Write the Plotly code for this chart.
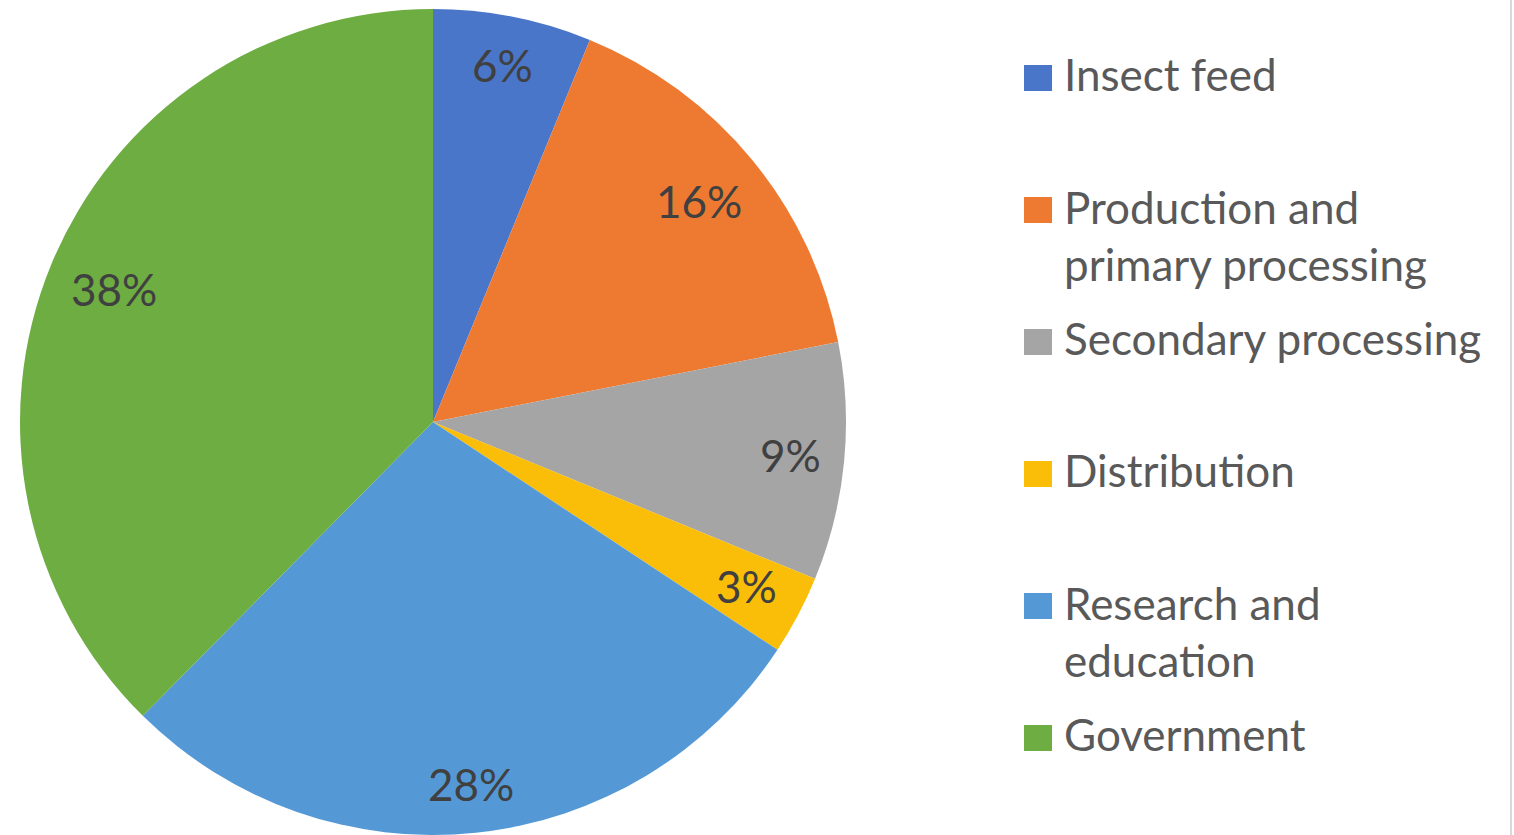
import math
import plotly.graph_objects as go

# ---- data ----
categories = ["Insect feed", "Production and primary processing", "Secondary processing",
              "Distribution", "Research and education", "Government"]
legend_text = ["Insect feed", "Production and<br>primary processing", "Secondary processing",
               "Distribution", "Research and<br>education", "Government"]
values = [6.2, 15.7, 9.3, 3.1, 28.1, 37.6]
colors = ["#4A76C9", "#EE7A31", "#A5A5A5", "#FBBE08", "#5499D6", "#6DAD42"]
# label distance from centre as a fraction of the radius (style)
label_r = [0.875, 0.835, 0.869, 0.86, 0.885, 0.835]

W, H = 1514, 835
FONT = "Lato"
TEXT_COLOR = "#404040"
LEG_COLOR = "#595959"

# pie geometry (pixels)
cx, cy, R = 433, 422, 413

fig = go.Figure()
fig.add_trace(go.Pie(
    labels=categories, values=values, sort=False, direction="clockwise", rotation=0,
    marker=dict(colors=colors, line=dict(width=0)),
    textinfo="none", hoverinfo="label+percent", showlegend=False,
    domain=dict(x=[(cx - R) / W, (cx + R) / W], y=[1 - (cy + R) / H, 1 - (cy - R) / H]),
))

annotations = []
shapes = []

# percentage labels placed at the slice mid-angle
total = sum(values)
cum = 0.0
for v, lr in zip(values, label_r):
    mid = (cum + v / 2) / total * 2 * math.pi
    cum += v
    r = lr * R
    px = cx + r * math.sin(mid)
    py = cy - r * math.cos(mid) - 2
    annotations.append(dict(
        x=px / W, y=1 - py / H, xref="paper", yref="paper", showarrow=False,
        text=f"{round(v / total * 100)}%", font=dict(family=FONT, size=44, color=TEXT_COLOR),
        xanchor="center", yanchor="middle"))

# legend
leg_top = 78
leg_step = 132
line_h = 59
for i, (txt, col) in enumerate(zip(legend_text, colors)):
    yc = leg_top + i * leg_step
    shapes.append(dict(type="rect", xref="paper", yref="paper",
                       x0=1024 / W, x1=1052 / W, y0=1 - (yc + 13) / H, y1=1 - (yc - 13) / H,
                       fillcolor=col, line=dict(width=0)))
    n = txt.count("<br>") + 1
    ym = yc - 4 + (n - 1) * line_h / 2
    annotations.append(dict(
        x=1062 / W, y=1 - ym / H, xref="paper", yref="paper", showarrow=False,
        text=txt, align="left", font=dict(family=FONT, size=44, color=LEG_COLOR),
        xanchor="left", yanchor="middle"))

# right border line
shapes.append(dict(type="line", xref="paper", yref="paper",
                   x0=1511 / W, x1=1511 / W, y0=0, y1=1, line=dict(color="#D9D9D9", width=2)))

fig.update_layout(
    width=W, height=H, margin=dict(l=0, r=0, t=0, b=0),
    paper_bgcolor="white", plot_bgcolor="white",
    annotations=annotations, shapes=shapes, showlegend=False,
)
fig.write_html("out.html", config={"displayModeBar": False},
               post_script="document.body.style.margin='0px';document.body.style.overflow='hidden';")
